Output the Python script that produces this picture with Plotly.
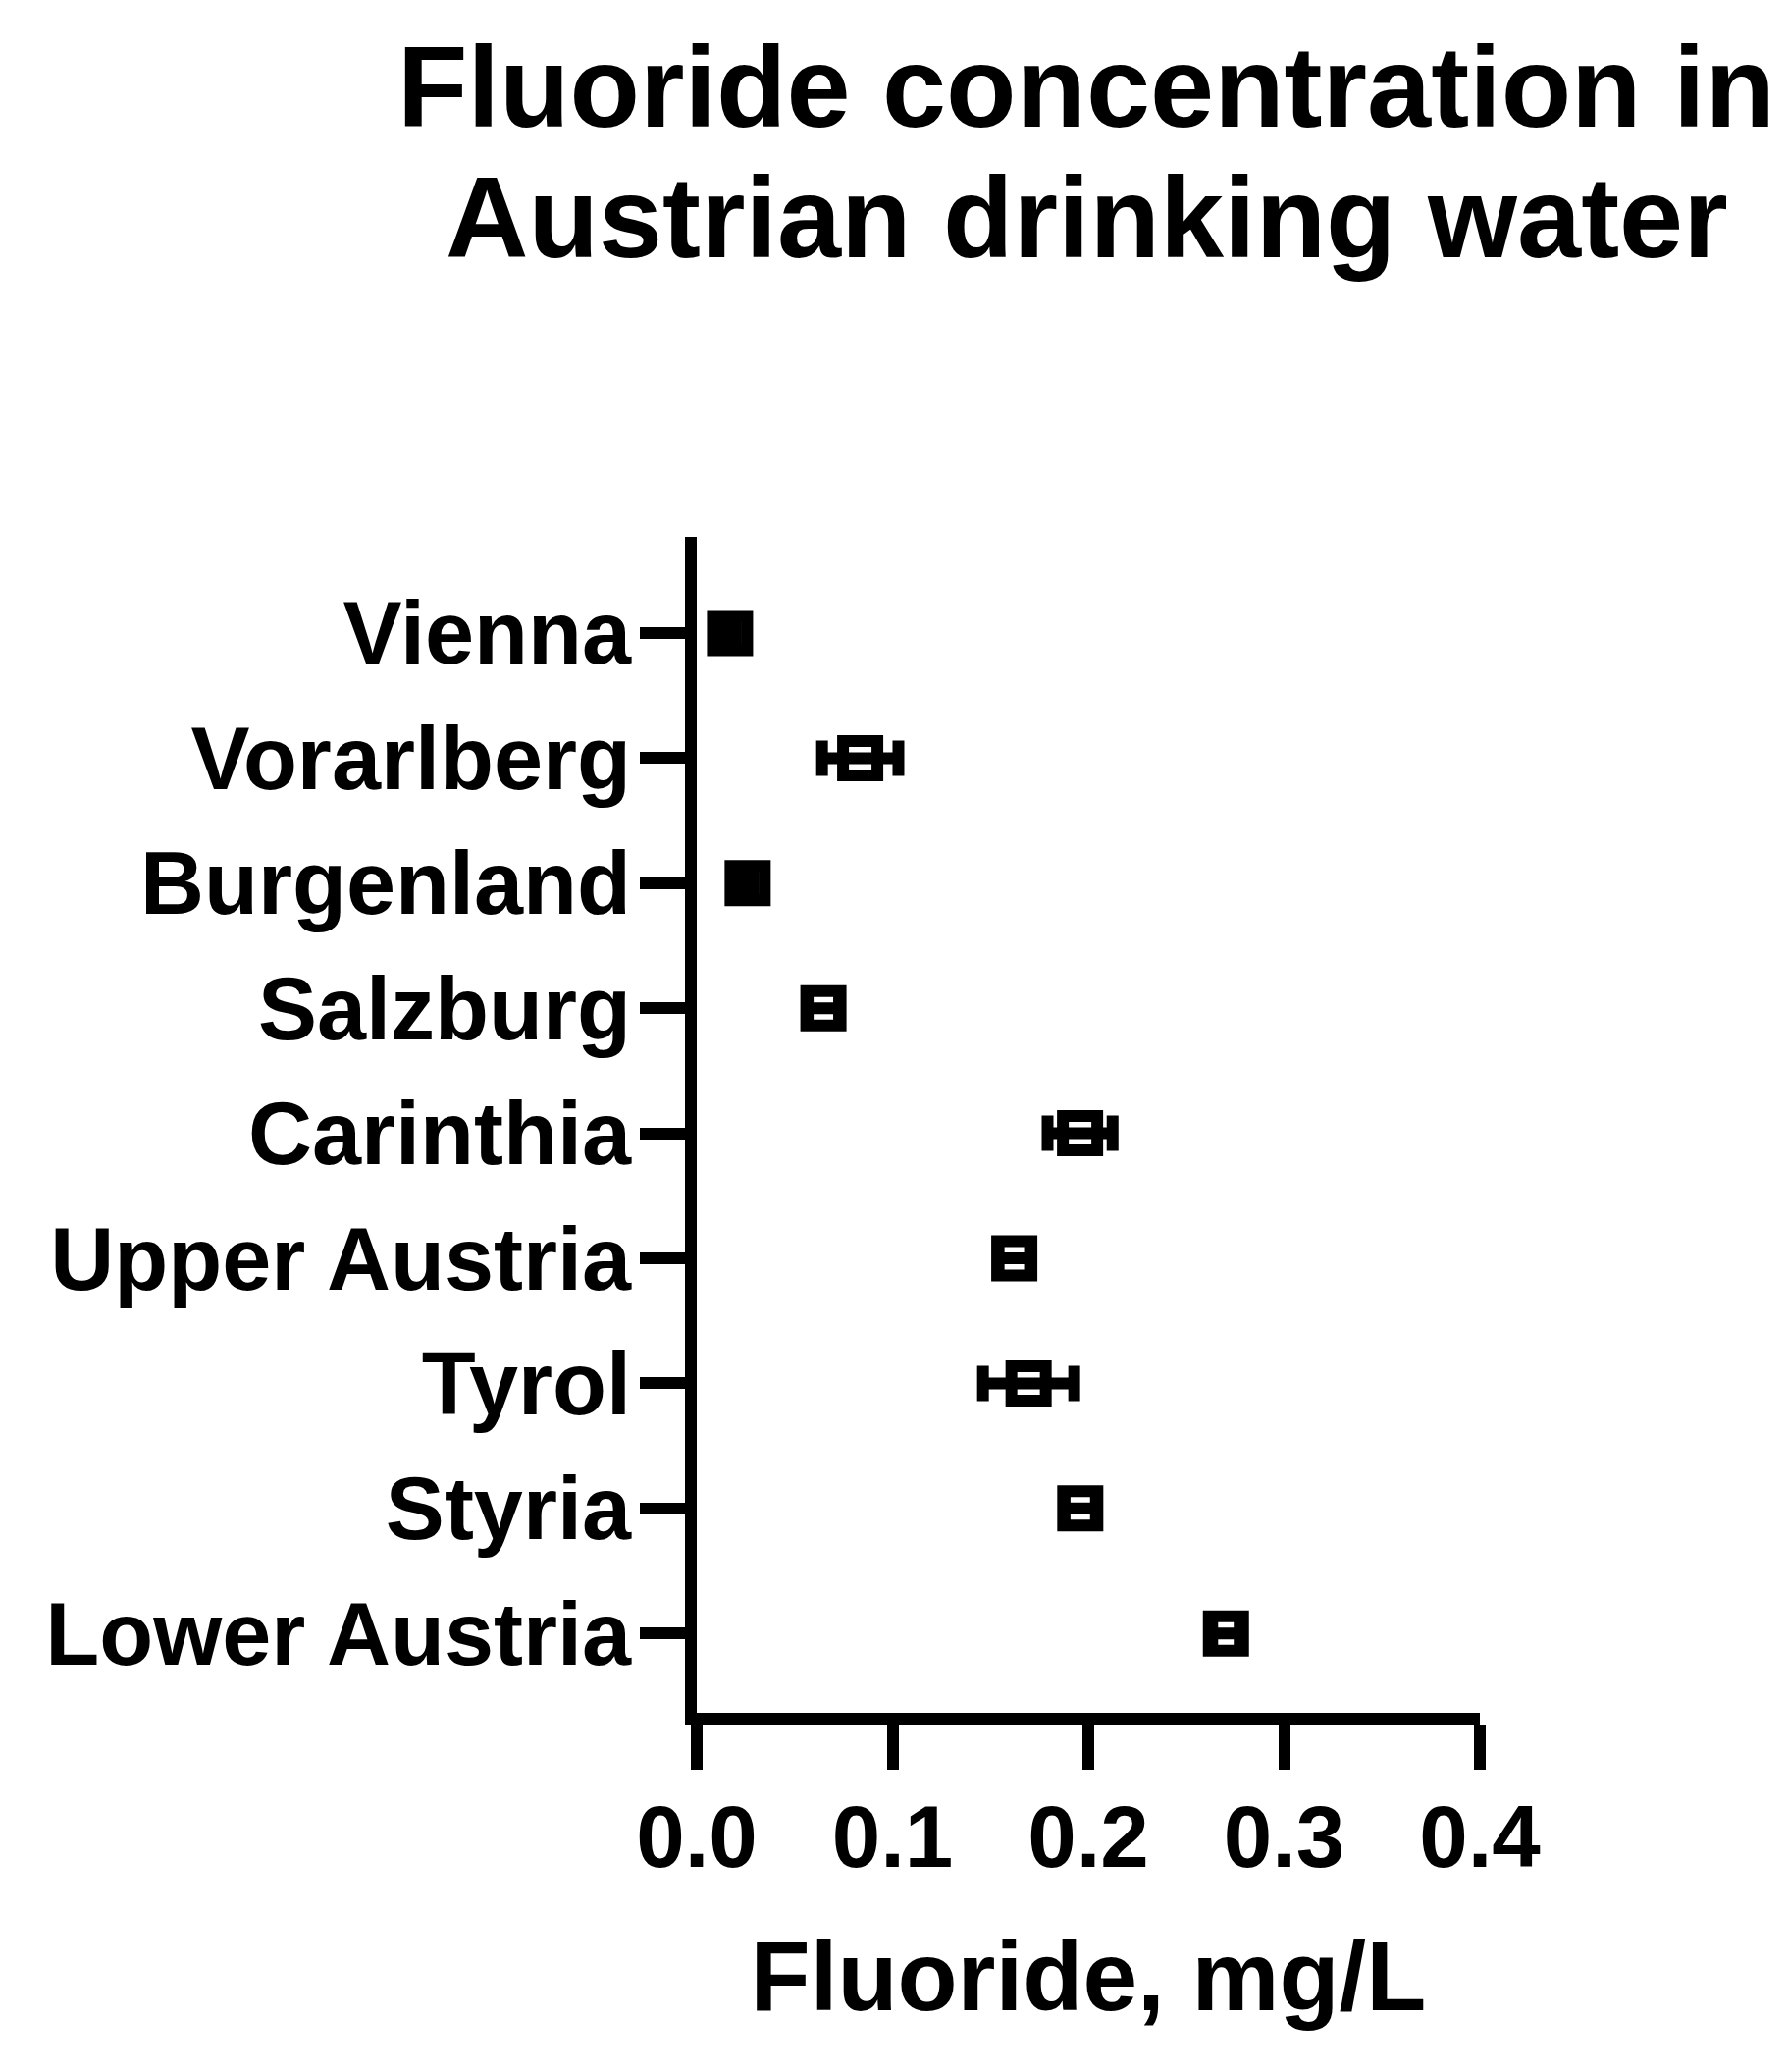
import plotly.graph_objects as go

# ---- data ----
regions = ["Vienna", "Vorarlberg", "Burgenland", "Salzburg", "Carinthia",
           "Upper Austria", "Tyrol", "Styria", "Lower Austria"]
mean_fluoride = [0.017, 0.0835, 0.026, 0.0647, 0.1958, 0.1622, 0.1695, 0.1959, 0.2703]
error_fluoride = [0.003, 0.0195, 0.003, 0.008, 0.0166, 0.008, 0.0233, 0.008, 0.007]
x_tick_vals = [0.0, 0.1, 0.2, 0.3, 0.4]
x_tick_text = ["0.0", "0.1", "0.2", "0.3", "0.4"]
title_lines = ["Fluoride concentration in", "Austrian drinking water"]
x_title = "Fluoride, mg/L"

# ---- figure ----
W, H = 1822, 2111
L, R, T, B = 710, 314, 547, 366
FONT = "Liberation Sans, Arial, Helvetica, sans-serif"

y_pos = list(range(len(regions)))

fig = go.Figure()
fig.add_trace(go.Scatter(
    x=mean_fluoride,
    y=y_pos,
    mode="markers",
    marker=dict(symbol="square-open", size=35, color="black",
                line=dict(width=12, color="black")),
    error_x=dict(type="data", array=error_fluoride, visible=True,
                 thickness=12, width=18, color="black"),
    showlegend=False,
    hoverinfo="x+y",
))

plot_h = H - T - B
def py_to_paper(py):
    return (H - B - py) / plot_h

fig.add_annotation(text=title_lines[0], xref="paper", yref="paper",
                   x=0.4978, y=py_to_paper(21), xanchor="center", yanchor="top",
                   showarrow=False,
                   font=dict(family=FONT, size=117, color="black", weight="bold"))
fig.add_annotation(text=title_lines[1], xref="paper", yref="paper",
                   x=0.4978, y=py_to_paper(154), xanchor="center", yanchor="top",
                   showarrow=False,
                   font=dict(family=FONT, size=117, color="black", weight="bold"))

fig.update_layout(
    width=W, height=H,
    margin=dict(l=L, r=R, t=T, b=B, pad=0),
    paper_bgcolor="white", plot_bgcolor="white",
    font=dict(family=FONT, color="black", weight="bold"),
    xaxis=dict(
        range=[0, 0.4], tickvals=x_tick_vals, ticktext=x_tick_text,
        showline=True, linewidth=12, linecolor="black",
        ticks="outside", ticklen=46, tickwidth=12, tickcolor="black",
        ticklabelstandoff=-8,
        showgrid=False, zeroline=False,
        tickfont=dict(family=FONT, size=89, color="black", weight="bold"),
        title=dict(text=x_title, standoff=63,
                   font=dict(family=FONT, size=100, color="black", weight="bold")),
    ),
    yaxis=dict(
        range=[8.634, -0.769], tickvals=y_pos, ticktext=regions,
        showline=True, linewidth=12, linecolor="black",
        ticks="outside", ticklen=46, tickwidth=12, tickcolor="black",
        ticklabelstandoff=-9,
        showgrid=False, zeroline=False,
        tickfont=dict(family=FONT, size=90, color="black", weight="bold"),
    ),
)

fig.write_html("out.html", config={"displayModeBar": False},
               post_script="document.body.style.margin='0';document.body.style.overflow='hidden';")
